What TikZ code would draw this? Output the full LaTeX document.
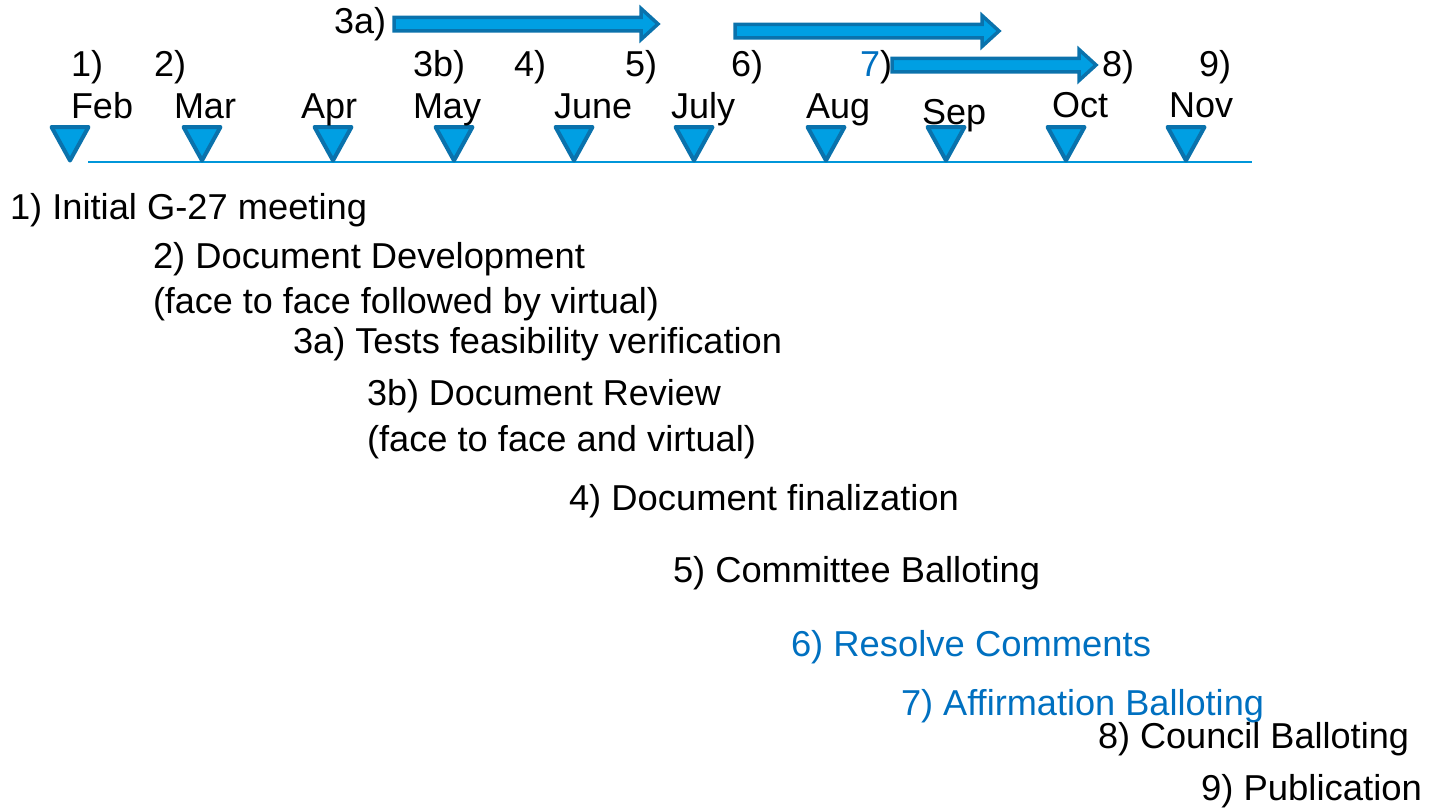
\documentclass[tikz,border=0pt]{standalone}
\usepackage{fontspec}
\setmainfont{Liberation Sans}
\usepackage{graphicx}

\definecolor{tlfill}{HTML}{009FE3}
\definecolor{tlstroke}{HTML}{0A72AC}
\definecolor{tlline}{HTML}{0096D9}
\definecolor{noteblue}{HTML}{0070C0}

% set a text line to a given width (in pt), keeping its height
\newcommand\fitw[2]{\resizebox{#1pt}{\height}{#2}}
% horizontal block arrow: tail x, tip x, centre y
\newcommand\blockarrowat[3]{%
  \draw[blockarrow] (#1,#3-6.75) -- (#2-17,#3-6.75) -- (#2-17,#3-15.5) -- (#2,#3)
    -- (#2-17,#3+15.5) -- (#2-17,#3+6.75) -- (#1,#3+6.75) -- cycle;}

\begin{document}
\begin{tikzpicture}[x=1pt,y=-1pt,
  every node/.style={inner sep=0pt, outer sep=0pt, anchor=base west,
    font=\fontsize{36}{43}\selectfont},
  marker/.style={draw=tlstroke, fill=tlfill, line width=4pt, line join=round},
  blockarrow/.style={draw=tlstroke, fill=tlfill, line width=3.5pt, line join=miter},
  axisline/.style={draw=tlline, line width=2pt},
  bluetext/.style={text=noteblue}]

\useasboundingbox (0,0) rectangle (1429,811);

% time axis
\coordinate (axis-start) at (88,162);
\coordinate (axis-end) at (1252,162);
\draw[axisline] (axis-start) -- (axis-end);

% month markers
\foreach \cx in {70,202,333,454,574,694,826,946,1066,1186}
  \draw[marker] (\cx-18.5,127) -- (\cx+18.5,127) -- (\cx,160.5) -- cycle;

% month names
\node (m-feb)  at (71,118)   {Feb};
\node (m-mar)  at (174,118)  {Mar};
\node (m-apr)  at (301,118)  {Apr};
\node (m-may)  at (413,118)  {May};
\node (m-jun)  at (554,118)  {June};
\node (m-jul)  at (671,118)  {July};
\node (m-aug)  at (806,118)  {Aug};
\node (m-sep)  at (922,124)  {Sep};
\node (m-oct)  at (1052,117) {Oct};
\node (m-nov)  at (1169,117) {Nov};

% step numbers above the months
\node (n1)  at (71,76)   {1)};
\node (n2)  at (154,76)  {2)};
\node (n3a) at (334,33)  {3a)};
\node (n3b) at (413,76)  {3b)};
\node (n4)  at (514,76)  {4)};
\node (n5)  at (625,76)  {5)};
\node (n6)  at (731,76)  {6)};
\node (n7)  at (860,76)  {\textcolor{noteblue}{7})};
\node (n8)  at (1102,76) {8)};
\node (n9)  at (1199,76) {9)};

% duration arrows
\blockarrowat{394}{658}{24}
\blockarrowat{735}{999}{31}
\blockarrowat{892}{1096}{65}

% legend of steps
\node (s1)  at (10,219)   {\fitw{357}{1) Initial G-27 meeting}};
\node (s2)  at (153,268)  {\fitw{432}{2) Document Development}};
\node (s2b) at (153,313)  {\fitw{506}{(face to face followed by virtual)}};
\node (s3a) at (293,353)  {\fitw{489}{3a) Tests feasibility verification}};
\node (s3b) at (367,405)  {\fitw{354}{3b) Document Review}};
\node (s3c) at (367,451)  {\fitw{389}{(face to face and virtual)}};
\node (s4)  at (569,510)  {\fitw{390}{4) Document finalization}};
\node (s5)  at (673,582)  {\fitw{367}{5) Committee Balloting}};
\node[bluetext] (s6) at (791,656) {\fitw{360}{6) Resolve Comments}};
\node[bluetext] (s7) at (901,715) {\fitw{363}{7) Affirmation Balloting}};
\node (s8)  at (1098,748) {\fitw{311}{8) Council Balloting}};
\node (s9)  at (1201,800) {\fitw{221}{9) Publication}};

\end{tikzpicture}
\end{document}
